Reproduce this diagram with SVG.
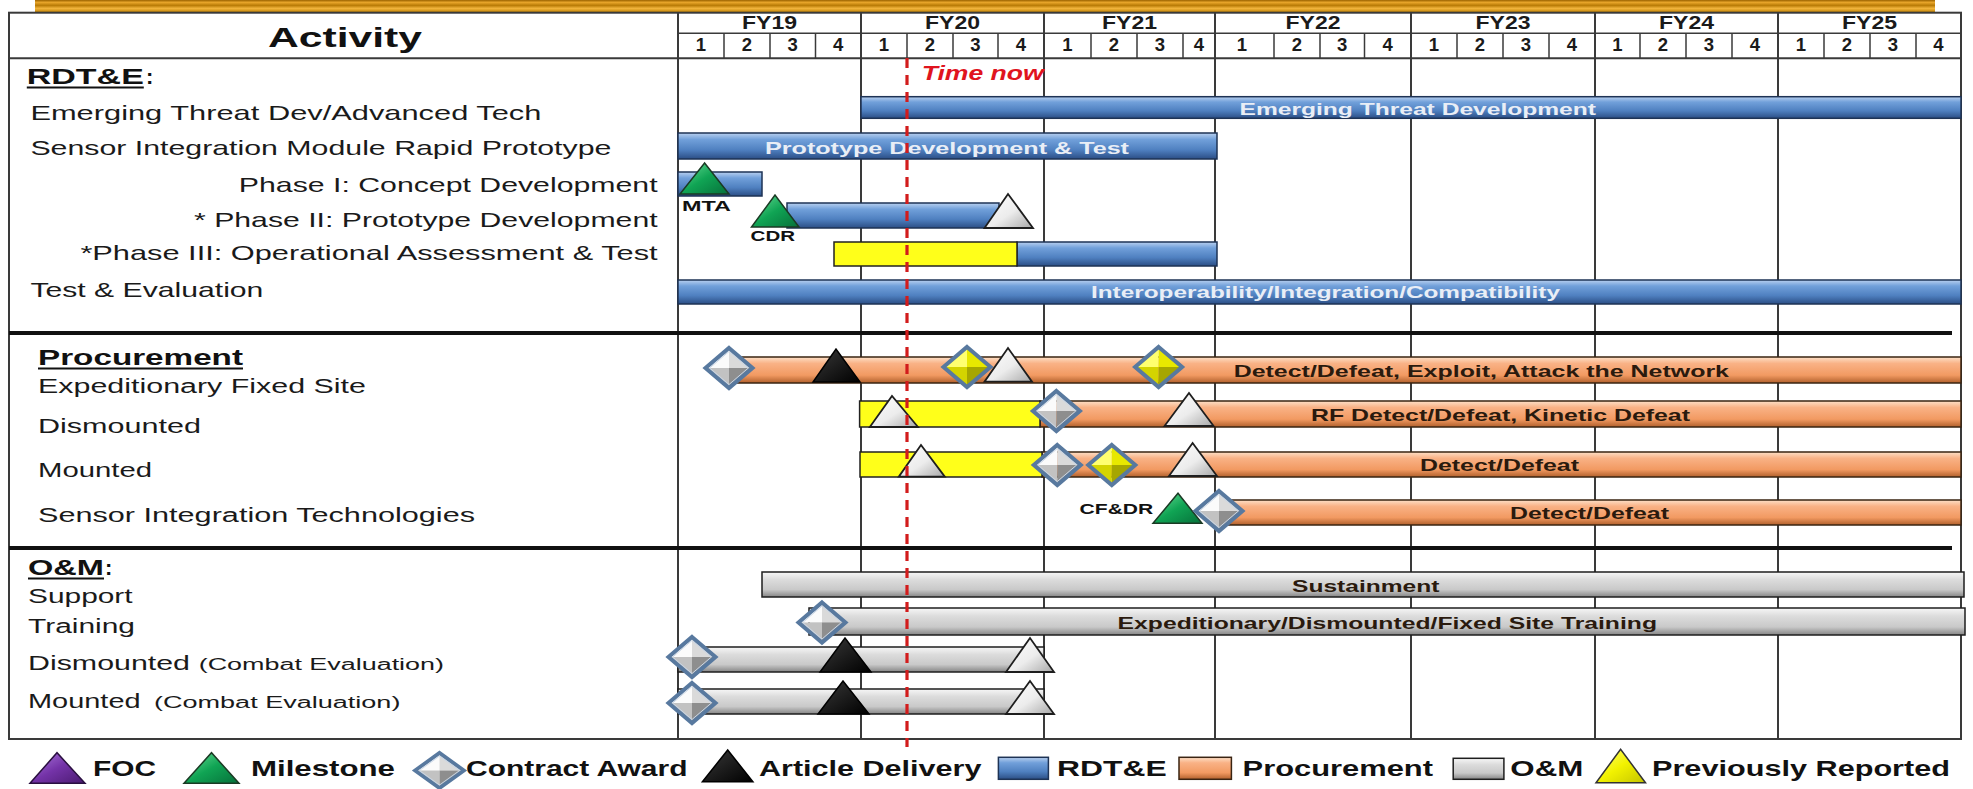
<svg xmlns="http://www.w3.org/2000/svg" xmlns:xlink="http://www.w3.org/1999/xlink" width="1973" height="789" viewBox="0 0 1973 789">
<defs>
<style>
text{font-family:"Liberation Sans",Arial,sans-serif;}
.lbl{font-size:21px;fill:#1a1a1a;}
.lbl2{font-size:20px;fill:#1a1a1a;}
.sm{font-size:16px;fill:#1a1a1a;}
.head{font-size:22px;font-weight:bold;fill:#111;}
.hdr{font-size:18.5px;font-weight:bold;fill:#1a1a1a;}
.lg{font-size:22px;font-weight:bold;fill:#111;}
.btl{font-size:17px;font-weight:bold;fill:#e9eef6;}
.btd{font-size:17px;font-weight:bold;fill:#2a1a0e;}
.mk{font-size:15px;font-weight:bold;fill:#111;}
.grid{stroke:#3a3a3a;stroke-width:2;fill:none;}
.qline{stroke:#3a3a3a;stroke-width:1.5;}
.sep{stroke:#111;stroke-width:4;}
.bBlue{fill:url(#gBlue);stroke:#1e3355;stroke-width:1.5;}
.bOr{fill:url(#gOr);stroke:#3a2412;stroke-width:1.5;}
.bGr{fill:url(#gGr);stroke:#1e1e1e;stroke-width:1.5;}
.bYe{fill:#ffff1a;stroke:#222;stroke-width:1.5;}
.tGreen{fill:url(#gGreen);stroke:#1b3a24;stroke-width:1.5;stroke-linejoin:miter;}
.tWhite{fill:url(#gWhite);stroke:#1e1e1e;stroke-width:1.8;}
.tBlack{fill:url(#gBlack);stroke:#000;stroke-width:1.5;}
.tPurple{fill:url(#gPurple);stroke:#2a1040;stroke-width:1.5;}
.tYellow{fill:url(#gYel);stroke:#333;stroke-width:1.5;}
.ul{stroke:#111;stroke-width:2;}
</style>
<linearGradient id="gBand" x1="0" y1="0" x2="0" y2="1">
<stop offset="0" stop-color="#9a6200"/>
<stop offset="0.2" stop-color="#e8a52a"/>
<stop offset="0.45" stop-color="#b97b06"/>
<stop offset="0.7" stop-color="#f2b43c"/>
<stop offset="1" stop-color="#c58608"/>
</linearGradient>
<linearGradient id="gBlue" x1="0" y1="0" x2="0" y2="1">
<stop offset="0" stop-color="#b9d0ef"/>
<stop offset="0.25" stop-color="#71a0da"/>
<stop offset="0.65" stop-color="#4f80c0"/>
<stop offset="1" stop-color="#2b4e85"/>
</linearGradient>
<linearGradient id="gOr" x1="0" y1="0" x2="0" y2="1">
<stop offset="0" stop-color="#fde0c8"/>
<stop offset="0.25" stop-color="#f9b286"/>
<stop offset="0.7" stop-color="#f29a62"/>
<stop offset="1" stop-color="#b1602c"/>
</linearGradient>
<linearGradient id="gGr" x1="0" y1="0" x2="0" y2="1">
<stop offset="0" stop-color="#f7f7f7"/>
<stop offset="0.3" stop-color="#dcdcdc"/>
<stop offset="0.7" stop-color="#c9c9c9"/>
<stop offset="1" stop-color="#858585"/>
</linearGradient>
<linearGradient id="gGreen" x1="0" y1="0" x2="1" y2="1">
<stop offset="0" stop-color="#6fe09a"/>
<stop offset="0.5" stop-color="#10a454"/>
<stop offset="1" stop-color="#06703a"/>
</linearGradient>
<linearGradient id="gWhite" x1="0" y1="0" x2="1" y2="1">
<stop offset="0" stop-color="#ffffff"/>
<stop offset="0.55" stop-color="#ececec"/>
<stop offset="1" stop-color="#a8a8a8"/>
</linearGradient>
<linearGradient id="gBlack" x1="0" y1="0" x2="1" y2="1">
<stop offset="0" stop-color="#3a3a3a"/>
<stop offset="1" stop-color="#000"/>
</linearGradient>
<linearGradient id="gPurple" x1="0" y1="0" x2="1" y2="1">
<stop offset="0" stop-color="#b07de0"/>
<stop offset="0.5" stop-color="#7433a8"/>
<stop offset="1" stop-color="#4a1a70"/>
</linearGradient>
<linearGradient id="gYel" x1="0" y1="0" x2="1" y2="1">
<stop offset="0" stop-color="#ffff80"/>
<stop offset="0.5" stop-color="#f2f200"/>
<stop offset="1" stop-color="#c4c400"/>
</linearGradient>
<g id="diaS">
<polygon points="0,-20 0,0 -23.5,0" fill="#fbfbfb"/>
<polygon points="0,-20 23.5,0 0,0" fill="#dadada"/>
<polygon points="-23.5,0 0,0 0,20" fill="#c2c2c2"/>
<polygon points="0,0 23.5,0 0,20" fill="#8e8e8e"/>
<polygon points="0,-20 23.5,0 0,20 -23.5,0" fill="none" stroke="#58799f" stroke-width="4"/>
<polygon points="0,-16.5 19.3,0 0,16.5 -19.3,0" fill="none" stroke="#c9d6e6" stroke-width="1"/>
</g>
<g id="diaY">
<polygon points="0,-20 0,0 -23.5,0" fill="#ffff70"/>
<polygon points="0,-20 23.5,0 0,0" fill="#e8e800"/>
<polygon points="-23.5,0 0,0 0,20" fill="#d4d400"/>
<polygon points="0,0 23.5,0 0,20" fill="#a6a600"/>
<polygon points="0,-20 23.5,0 0,20 -23.5,0" fill="none" stroke="#58799f" stroke-width="4"/>
</g>
</defs>

<rect x="0" y="0" width="1973" height="789" fill="#ffffff"/>
<rect x="35" y="0" width="1900" height="12" fill="url(#gBand)"/>

<g id="grid">
<rect x="9" y="12.7" width="1952" height="726.3" class="grid"/>
<line x1="678" y1="33.3" x2="1961" y2="33.3" class="qline"/>
<line x1="9" y1="58.3" x2="1961" y2="58.3" class="grid"/>
<g class="grid">
<line x1="678" y1="12.7" x2="678" y2="739"/>
<line x1="861" y1="12.7" x2="861" y2="739"/>
<line x1="1044" y1="12.7" x2="1044" y2="739"/>
<line x1="1215" y1="12.7" x2="1215" y2="739"/>
<line x1="1411" y1="12.7" x2="1411" y2="739"/>
<line x1="1595" y1="12.7" x2="1595" y2="739"/>
<line x1="1778" y1="12.7" x2="1778" y2="739"/>
</g>
<g class="qline">
<line x1="724" y1="33.3" x2="724" y2="58.3"/><line x1="770" y1="33.3" x2="770" y2="58.3"/><line x1="815.5" y1="33.3" x2="815.5" y2="58.3"/>
<line x1="907" y1="33.3" x2="907" y2="58.3"/><line x1="953" y1="33.3" x2="953" y2="58.3"/><line x1="998" y1="33.3" x2="998" y2="58.3"/>
<line x1="1091" y1="33.3" x2="1091" y2="58.3"/><line x1="1137" y1="33.3" x2="1137" y2="58.3"/><line x1="1183" y1="33.3" x2="1183" y2="58.3"/>
<line x1="1274" y1="33.3" x2="1274" y2="58.3"/><line x1="1320" y1="33.3" x2="1320" y2="58.3"/><line x1="1364.5" y1="33.3" x2="1364.5" y2="58.3"/>
<line x1="1457" y1="33.3" x2="1457" y2="58.3"/><line x1="1503" y1="33.3" x2="1503" y2="58.3"/><line x1="1549" y1="33.3" x2="1549" y2="58.3"/>
<line x1="1640" y1="33.3" x2="1640" y2="58.3"/><line x1="1686" y1="33.3" x2="1686" y2="58.3"/><line x1="1732" y1="33.3" x2="1732" y2="58.3"/>
<line x1="1824" y1="33.3" x2="1824" y2="58.3"/><line x1="1870" y1="33.3" x2="1870" y2="58.3"/><line x1="1916" y1="33.3" x2="1916" y2="58.3"/>
</g>
<line x1="9" y1="333" x2="1952" y2="333" class="sep"/>
<line x1="9" y1="548" x2="1952" y2="548" class="sep"/>
</g>

<g id="header">
<text x="268" y="46.7" font-size="28" font-weight="bold" fill="#111" textLength="154" lengthAdjust="spacingAndGlyphs">Activity</text>
<g class="hdr">
<text x="742" y="28.5" textLength="55" lengthAdjust="spacingAndGlyphs">FY19</text>
<text x="925" y="28.5" textLength="55" lengthAdjust="spacingAndGlyphs">FY20</text>
<text x="1102" y="28.5" textLength="55" lengthAdjust="spacingAndGlyphs">FY21</text>
<text x="1285.5" y="28.5" textLength="55" lengthAdjust="spacingAndGlyphs">FY22</text>
<text x="1475.5" y="28.5" textLength="55" lengthAdjust="spacingAndGlyphs">FY23</text>
<text x="1659" y="28.5" textLength="55" lengthAdjust="spacingAndGlyphs">FY24</text>
<text x="1842" y="28.5" textLength="55" lengthAdjust="spacingAndGlyphs">FY25</text>
</g>
<g class="hdr" text-anchor="middle">
<text x="701" y="51">1</text><text x="747" y="51">2</text><text x="792.7" y="51">3</text><text x="838.2" y="51">4</text>
<text x="884" y="51">1</text><text x="930" y="51">2</text><text x="975.5" y="51">3</text><text x="1021" y="51">4</text>
<text x="1067.5" y="51">1</text><text x="1114" y="51">2</text><text x="1160" y="51">3</text><text x="1199" y="51">4</text>
<text x="1242" y="51">1</text><text x="1297" y="51">2</text><text x="1342.2" y="51">3</text><text x="1387.7" y="51">4</text>
<text x="1434" y="51">1</text><text x="1480" y="51">2</text><text x="1526" y="51">3</text><text x="1572" y="51">4</text>
<text x="1617.5" y="51">1</text><text x="1663" y="51">2</text><text x="1709" y="51">3</text><text x="1755" y="51">4</text>
<text x="1801" y="51">1</text><text x="1847" y="51">2</text><text x="1893" y="51">3</text><text x="1938.5" y="51">4</text>
</g>
</g>

<g id="labels">
<text x="26.8" y="84" class="head" textLength="117" lengthAdjust="spacingAndGlyphs">RDT&amp;E</text>
<text x="146" y="84" class="head">:</text>
<line x1="26.8" y1="87.5" x2="143.8" y2="87.5" class="ul"/>
<text x="30.4" y="120" class="lbl" textLength="511" lengthAdjust="spacingAndGlyphs">Emerging Threat Dev/Advanced Tech</text>
<text x="30.4" y="155" class="lbl" textLength="581" lengthAdjust="spacingAndGlyphs">Sensor Integration Module Rapid Prototype</text>
<text x="238.8" y="191.7" class="lbl" textLength="418.8" lengthAdjust="spacingAndGlyphs">Phase I: Concept Development</text>
<text x="194" y="226.7" class="lbl" textLength="463.6" lengthAdjust="spacingAndGlyphs">* Phase II: Prototype Development</text>
<text x="80.4" y="260" class="lbl" textLength="577.2" lengthAdjust="spacingAndGlyphs">*Phase III: Operational Assessment &amp; Test</text>
<text x="30.4" y="296.7" class="lbl" textLength="233" lengthAdjust="spacingAndGlyphs">Test &amp; Evaluation</text>

<text x="38" y="365" class="head" textLength="205" lengthAdjust="spacingAndGlyphs">Procurement</text>
<line x1="38" y1="368.5" x2="243" y2="368.5" class="ul"/>
<text x="38" y="392.7" class="lbl2" textLength="328" lengthAdjust="spacingAndGlyphs">Expeditionary Fixed Site</text>
<text x="38" y="433.3" class="lbl2" textLength="163" lengthAdjust="spacingAndGlyphs">Dismounted</text>
<text x="38" y="477.3" class="lbl2" textLength="114" lengthAdjust="spacingAndGlyphs">Mounted</text>
<text x="38" y="521.7" class="lbl2" textLength="437" lengthAdjust="spacingAndGlyphs">Sensor Integration Technologies</text>

<text x="28" y="575" class="head" textLength="76" lengthAdjust="spacingAndGlyphs">O&amp;M</text>
<text x="105" y="575" class="head">:</text>
<line x1="28" y1="578.5" x2="104" y2="578.5" class="ul"/>
<text x="28" y="602.7" class="lbl2" textLength="104.6" lengthAdjust="spacingAndGlyphs">Support</text>
<text x="28" y="633.3" class="lbl2" textLength="107" lengthAdjust="spacingAndGlyphs">Training</text>
<text x="28" y="670" class="lbl2" textLength="162" lengthAdjust="spacingAndGlyphs">Dismounted</text>
<text x="198.7" y="670" class="sm" textLength="245.3" lengthAdjust="spacingAndGlyphs">(Combat Evaluation)</text>
<text x="28" y="708.3" class="lbl2" textLength="112.6" lengthAdjust="spacingAndGlyphs">Mounted</text>
<text x="154" y="708.3" class="sm" textLength="246.4" lengthAdjust="spacingAndGlyphs">(Combat Evaluation)</text>
</g>

<g id="row-emerging">
<rect x="861" y="96.7" width="1100" height="21.6" class="bBlue"/>
<text x="1239.5" y="115" class="btl" textLength="356.5" lengthAdjust="spacingAndGlyphs">Emerging Threat Development</text>
</g>
<g id="row-prototype">
<rect x="678" y="133" width="539" height="26" class="bBlue"/>
<text x="765" y="153.5" class="btl" font-size="18" textLength="364" lengthAdjust="spacingAndGlyphs">Prototype Development &amp; Test</text>
</g>
<g id="row-phase1">
<rect x="678" y="172" width="84" height="24" class="bBlue"/>
<polygon points="680,194 729,194 704.6,163" class="tGreen"/>
<text x="682" y="211" class="mk" textLength="49" lengthAdjust="spacingAndGlyphs">MTA</text>
</g>
<g id="row-phase2">
<rect x="787" y="203" width="212" height="25" class="bBlue"/>
<polygon points="751.5,227 799,227 775,195" class="tGreen"/>
<polygon points="984.5,228 1033,228 1008,194" class="tWhite"/>
<text x="750.6" y="241" class="mk" textLength="44.4" lengthAdjust="spacingAndGlyphs">CDR</text>
</g>
<g id="row-phase3">
<rect x="1017" y="242" width="200" height="24" class="bBlue"/>
<rect x="834" y="242" width="183" height="24" class="bYe"/>
</g>
<g id="row-te">
<rect x="678" y="280" width="1283" height="24" class="bBlue"/>
<text x="1091" y="297.5" class="btl" font-size="16" textLength="469" lengthAdjust="spacingAndGlyphs">Interoperability/Integration/Compatibility</text>
</g>

<g id="row-expeditionary">
<rect x="729" y="357" width="1232" height="26" class="bOr"/>
<use xlink:href="#diaS" x="729" y="368"/>
<polygon points="813,382 860,382 836,349" class="tBlack"/>
<use xlink:href="#diaY" x="967" y="367"/>
<polygon points="984.5,381.7 1032,381.7 1008,348" class="tWhite"/>
<use xlink:href="#diaY" x="1158.6" y="367"/>
<text x="1233.7" y="376.5" class="btd" textLength="495.3" lengthAdjust="spacingAndGlyphs">Detect/Defeat, Exploit, Attack the Network</text>
</g>
<g id="row-dismounted">
<rect x="1040" y="401" width="921" height="26" class="bOr"/>
<rect x="859.6" y="401" width="180.4" height="26" class="bYe"/>
<polygon points="869.8,427 918,427 892,396" class="tWhite"/>
<use xlink:href="#diaS" x="1056.4" y="411"/>
<polygon points="1164.5,426 1213.6,426 1189,393" class="tWhite"/>
<text x="1311" y="420.5" class="btd" textLength="379" lengthAdjust="spacingAndGlyphs">RF Detect/Defeat, Kinetic Defeat</text>
</g>
<g id="row-mounted">
<rect x="1042" y="452" width="919" height="25" class="bOr"/>
<rect x="860" y="452" width="182" height="25" class="bYe"/>
<polygon points="898.8,476.7 944.8,476.7 921,445" class="tWhite"/>
<use xlink:href="#diaS" x="1057.3" y="465"/>
<use xlink:href="#diaY" x="1111.8" y="465"/>
<polygon points="1169,476 1217,476 1192.6,443" class="tWhite"/>
<text x="1420" y="470.5" class="btd" textLength="159" lengthAdjust="spacingAndGlyphs">Detect/Defeat</text>
</g>
<g id="row-sit">
<rect x="1219" y="500" width="742" height="25" class="bOr"/>
<text x="1079.6" y="513.5" class="mk" textLength="73.7" lengthAdjust="spacingAndGlyphs">CF&amp;DR</text>
<polygon points="1153,523.3 1202,523.3 1178,493.3" class="tGreen"/>
<use xlink:href="#diaS" x="1219" y="511"/>
<text x="1510" y="519" class="btd" textLength="159" lengthAdjust="spacingAndGlyphs">Detect/Defeat</text>
</g>

<g id="row-support">
<rect x="762" y="572" width="1202" height="25" class="bGr"/>
<text x="1292" y="591.5" class="btd" fill="#1a1a1a" textLength="147.5" lengthAdjust="spacingAndGlyphs">Sustainment</text>
</g>
<g id="row-training">
<rect x="809" y="608" width="1156" height="27" class="bGr"/>
<use xlink:href="#diaS" x="822" y="622.5"/>
<text x="1117.6" y="629" class="btd" textLength="539.4" lengthAdjust="spacingAndGlyphs">Expeditionary/Dismounted/Fixed Site Training</text>
</g>
<g id="row-om-dismounted">
<rect x="678" y="647" width="366" height="25" class="bGr"/>
<use xlink:href="#diaS" x="692" y="657"/>
<polygon points="820,672 871,672 845,638" class="tBlack"/>
<polygon points="1006,672 1054,672 1030,638" class="tWhite"/>
</g>
<g id="row-om-mounted">
<rect x="678" y="689" width="366" height="25" class="bGr"/>
<use xlink:href="#diaS" x="692" y="703"/>
<polygon points="818,714 869,714 843,681" class="tBlack"/>
<polygon points="1006,714 1054,714 1030,681" class="tWhite"/>
</g>

<g id="time-now">
<line x1="907" y1="58" x2="907" y2="747" stroke="#d21c1c" stroke-width="3.2" stroke-dasharray="10 7"/>
<text x="921.7" y="80" font-size="20" font-weight="bold" font-style="italic" fill="#e0141e" textLength="122" lengthAdjust="spacingAndGlyphs">Time now</text>
</g>

<g id="legend">
<polygon points="30,783.3 85,783.3 57,752.7" class="tPurple"/>
<text x="93" y="776" class="lg" textLength="63" lengthAdjust="spacingAndGlyphs">FOC</text>
<polygon points="184,783.3 239,783.3 211.5,752.7" class="tGreen"/>
<text x="251" y="776" class="lg" textLength="144" lengthAdjust="spacingAndGlyphs">Milestone</text>
<use xlink:href="#diaS" transform="translate(439.5,770.5) scale(1.04,0.88)"/>
<text x="466" y="776" class="lg" textLength="221.5" lengthAdjust="spacingAndGlyphs">Contract Award</text>
<polygon points="702.4,781.7 752.9,781.7 727.7,750" class="tBlack"/>
<text x="759" y="776" class="lg" textLength="222.4" lengthAdjust="spacingAndGlyphs">Article Delivery</text>
<rect x="998.4" y="757.3" width="50" height="22" class="bBlue"/>
<text x="1057" y="776" class="lg" textLength="109.7" lengthAdjust="spacingAndGlyphs">RDT&amp;E</text>
<rect x="1179" y="757.3" width="52.4" height="22" class="bOr"/>
<text x="1242.6" y="776" class="lg" textLength="190.4" lengthAdjust="spacingAndGlyphs">Procurement</text>
<rect x="1453.2" y="758.3" width="50.7" height="21" class="bGr"/>
<text x="1510.3" y="776" class="lg" textLength="73" lengthAdjust="spacingAndGlyphs">O&amp;M</text>
<polygon points="1596,782.7 1645.5,782.7 1620.6,749.3" class="tYellow"/>
<text x="1652" y="776" class="lg" textLength="298" lengthAdjust="spacingAndGlyphs">Previously Reported</text>
</g>
</svg>
